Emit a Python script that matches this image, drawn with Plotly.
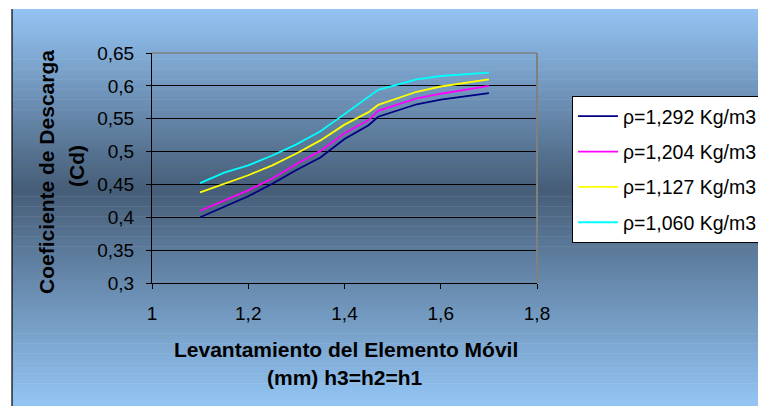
import plotly.graph_objects as go

# ---- data ----
lift_mm = [1.1, 1.15, 1.2, 1.25, 1.3, 1.35, 1.4, 1.45, 1.47, 1.55, 1.6, 1.7]
cd_1292 = [0.400, 0.416, 0.432, 0.451, 0.472, 0.491, 0.519, 0.540, 0.553, 0.572, 0.579, 0.589]
cd_1204 = [0.410, 0.425, 0.441, 0.459, 0.481, 0.501, 0.528, 0.548, 0.562, 0.581, 0.588, 0.600]
cd_1127 = [0.438, 0.451, 0.464, 0.479, 0.497, 0.517, 0.541, 0.560, 0.571, 0.591, 0.599, 0.610]
cd_1060 = [0.452, 0.468, 0.479, 0.494, 0.511, 0.531, 0.557, 0.583, 0.594, 0.610, 0.615, 0.620]
series_names = ["ρ=1,292 Kg/m3", "ρ=1,204 Kg/m3", "ρ=1,127 Kg/m3", "ρ=1,060 Kg/m3"]
series_colors = ["#000080", "#FF00FF", "#FFFF00", "#00FFFF"]

x_tick_vals = [1, 1.2, 1.4, 1.6, 1.8]
x_tick_text = ["1", "1,2", "1,4", "1,6", "1,8"]
y_tick_vals = [0.3, 0.35, 0.4, 0.45, 0.5, 0.55, 0.6, 0.65]
y_tick_text = ["0,3", "0,35", "0,4", "0,45", "0,5", "0,55", "0,6", "0,65"]

x_title = ["Levantamiento del Elemento Móvil", "(mm) h3=h2=h1"]
y_title = ["Coeficiente de Descarga", "(Cd)"]

# ---- layout geometry (page pixels; the page body adds an 8px offset) ----
OFF = 8
W, H = 766, 406
L, R, T, B = 152 - OFF, 537 - OFF, 53 - OFF, 283 - OFF
PW, PH = R - L, B - T
FONT = "Liberation Sans, Arial, sans-serif"


def px(xp):
    return (xp - OFF - L) / PW


def py(yp):
    return (B - (yp - OFF)) / PH


fig = go.Figure()
for vals, name, col, i in zip([cd_1292, cd_1204, cd_1127, cd_1060], series_names, series_colors, range(4)):
    fig.add_trace(go.Scatter(x=lift_mm, y=vals, mode="lines", name=name,
                             legendgroup=str(i),
                             line=dict(color=col, width=1.8)))

# gradient background bands
top_c = (148, 196, 244)
mid_c = (70, 93, 119)
bot_c = (149, 199, 247)
y_top, y_mid, y_bot = 9, 190, 410
shapes = []
n = 120
for k in range(n):
    a = y_top + (y_bot - y_top) * k / n
    b = y_top + (y_bot - y_top) * (k + 1) / n
    c = (a + b) / 2
    if c <= y_mid:
        t = (c - y_top) / (y_mid - y_top)
        col = tuple(round(top_c[j] + (mid_c[j] - top_c[j]) * t) for j in range(3))
    else:
        t = (c - y_mid) / (y_bot - y_mid)
        col = tuple(round(mid_c[j] + (bot_c[j] - mid_c[j]) * t) for j in range(3))
    shapes.append(dict(type="rect", xref="paper", yref="paper",
                       x0=px(12), x1=px(W + 20), y0=py(b + 0.6), y1=py(a),
                       fillcolor="rgb(%d,%d,%d)" % col, line=dict(width=0), layer="below"))
# left border of chart area
shapes.append(dict(type="line", xref="paper", yref="paper", x0=px(12), x1=px(12),
                   y0=py(9), y1=py(H + 10), line=dict(color="black", width=1.2), layer="below"))
# plot frame top/right (gray)
shapes.append(dict(type="line", xref="paper", yref="paper", x0=0, x1=1, y0=1, y1=1,
                   line=dict(color="#808080", width=1.5)))
shapes.append(dict(type="line", xref="paper", yref="paper", x0=1, x1=1, y0=0, y1=1,
                   line=dict(color="#808080", width=2)))

annotations = [
    dict(text="<b>%s</b>" % x_title[0], xref="paper", yref="paper", x=px(346), y=py(350),
         xanchor="center", yanchor="middle", showarrow=False, font=dict(family=FONT, size=21, color="black")),
    dict(text="<b>%s</b>" % x_title[1], xref="paper", yref="paper", x=px(345), y=py(377),
         xanchor="center", yanchor="middle", showarrow=False, font=dict(family=FONT, size=21, color="black")),
    dict(text="<b>%s</b>" % y_title[0], xref="paper", yref="paper", x=px(46), y=py(172),
         xanchor="center", yanchor="middle", textangle=-90, showarrow=False,
         font=dict(family=FONT, size=21, color="black")),
    dict(text="<b>%s</b>" % y_title[1], xref="paper", yref="paper", x=px(76), y=py(166),
         xanchor="center", yanchor="middle", textangle=-90, showarrow=False,
         font=dict(family=FONT, size=21, color="black")),
]

fig.update_layout(
    width=W, height=H,
    margin=dict(l=L, r=W - R, t=T, b=H - B, autoexpand=False, pad=0),
    paper_bgcolor="white", plot_bgcolor="white",
    font=dict(family=FONT, size=19, color="black"),
    showlegend=True,
    legend=dict(x=px(572), y=py(96), xanchor="left", yanchor="top",
                bgcolor="white", bordercolor="black", borderwidth=1,
                font=dict(family=FONT, size=19.5, color="black"),
                tracegroupgap=7, itemwidth=40, traceorder="grouped"),
    shapes=shapes,
    annotations=annotations,
    xaxis=dict(range=[1, 1.8], tickvals=x_tick_vals, ticktext=x_tick_text,
               showgrid=False, zeroline=False, showline=True, linecolor="black", linewidth=1,
               ticks="outside", ticklen=5, tickcolor="black", tickwidth=1,
               ticklabelstandoff=8, tickfont=dict(family=FONT, size=19, color="black")),
    yaxis=dict(range=[0.3, 0.65], tickvals=y_tick_vals, ticktext=y_tick_text,
               showgrid=True, gridcolor="black", gridwidth=1, zeroline=False,
               showline=True, linecolor="black", linewidth=1,
               ticks="outside", ticklen=5, tickcolor="black", tickwidth=1,
               ticklabelstandoff=8, tickfont=dict(family=FONT, size=19, color="black")),
)

fig.write_html("out.html")
